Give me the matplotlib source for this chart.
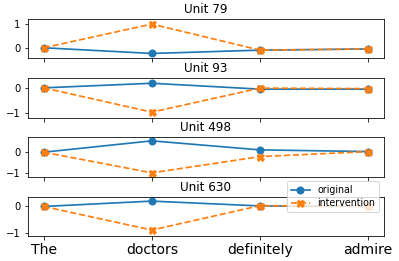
import matplotlib
matplotlib.use("Agg")
import matplotlib.pyplot as plt

tokens = ["The", "doctors", "definitely", "admire"]
units = [79, 93, 498, 630]

original = [
    [0.0, -0.24, -0.10, -0.05],
    [0.0, 0.18, -0.05, -0.05],
    [0.0, 0.54, 0.11, 0.03],
    [0.0, 0.20, 0.02, 0.0],
]
intervention = [
    [0.0, 1.0, -0.10, -0.05],
    [0.0, -0.95, -0.01, -0.03],
    [0.0, -0.98, -0.21, 0.03],
    [0.0, -0.88, 0.03, 0.0],
]

ylims = [(-0.45, 1.2), (-1.16, 0.37), (-1.16, 0.70), (-1.09, 0.37)]
yticks = [[0, 1], [-1, 0], [-1, 0], [-1, 0]]

dpi = 72
fig, axes = plt.subplots(4, 1, figsize=(399 / dpi, 261 / dpi), dpi=dpi, sharex=True)
fig.subplots_adjust(left=0.069, right=0.963, top=0.926, bottom=0.097, hspace=0.51)

x = list(range(len(tokens)))
for i, ax in enumerate(axes):
    ax.plot(x, original[i], "o-", color="C0", ms=7, lw=1.7, label="original")
    ax.plot(x, intervention[i], "X--", color="C1", ms=7, lw=1.7, label="intervention")
    ax.set_title(f"Unit {units[i]}")
    ax.set_ylim(*ylims[i])
    ax.set_yticks(yticks[i])

axes[-1].set_xticks(x)
axes[-1].set_xticklabels(tokens, fontsize=14)
axes[-1].legend(loc="upper right", bbox_to_anchor=(0.986, 1.385),
                borderaxespad=0, fontsize=9.5, labelspacing=0.3)

plt.savefig("out.png", dpi=dpi)
